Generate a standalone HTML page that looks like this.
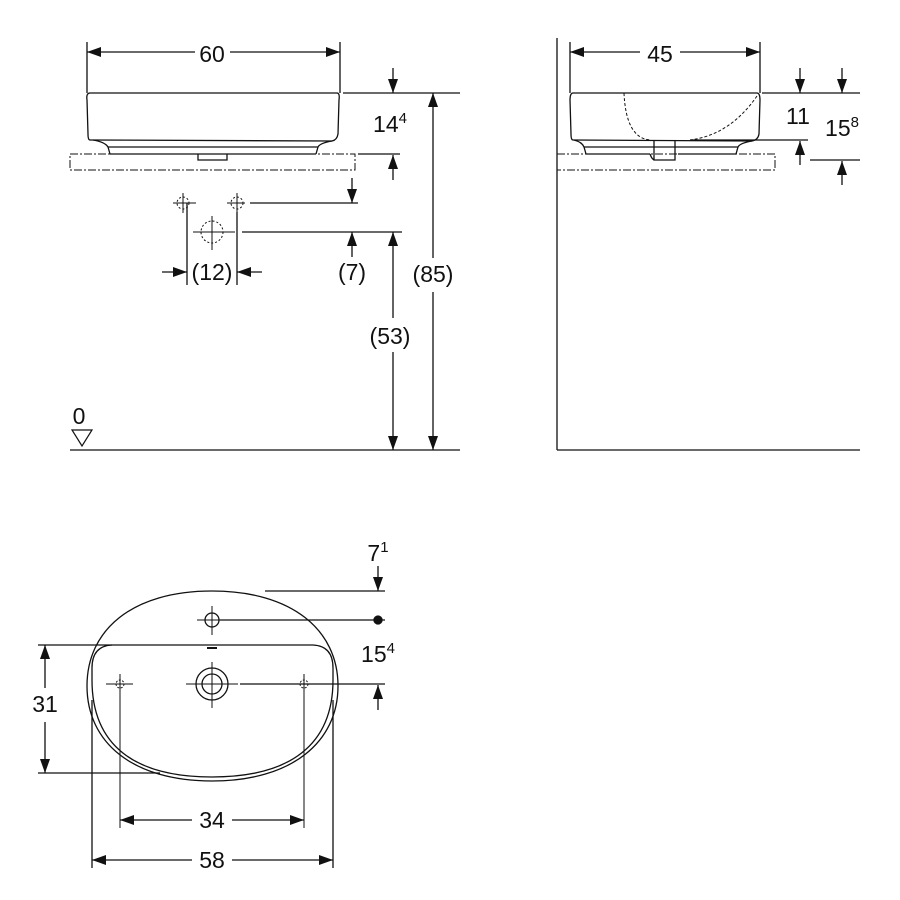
<!DOCTYPE html>
<html><head><meta charset="utf-8"><style>
html,body{margin:0;padding:0;background:#fff}
svg{display:block}
text{font-family:"Liberation Sans",sans-serif;font-size:23px;fill:#111;text-anchor:middle}
</style></head><body>
<svg width="900" height="900" viewBox="0 0 900 900" xmlns="http://www.w3.org/2000/svg">
<defs>
<marker id="a" viewBox="0 0 14 10" refX="14" refY="5" markerWidth="14" markerHeight="10" markerUnits="userSpaceOnUse" orient="auto-start-reverse"><path d="M0,0L14,5L0,10z" fill="#111"/></marker>
</defs>
<g stroke="#111" stroke-width="1.3" fill="none">
<!-- TOP LEFT -->
<line x1="87" y1="42" x2="87" y2="93"/><line x1="340" y1="42" x2="340" y2="93"/>
<line x1="87" y1="52" x2="195" y2="52" marker-start="url(#a)"/><line x1="230" y1="52" x2="340" y2="52" marker-end="url(#a)"/>
<path d="M90,93 H337 Q340,93 339,100 L338,134 Q337,140 332,141 L90,140 Q88,140 88,134 L87,100 Q86,93 90,93Z"/>
<path d="M93,140 Q105,142 108,147 L110,154 M332,141 Q320,143 318,147 L316,154 M108,147 H318 M110,154 H316"/>
<path d="M198,154 V160 H227 V154"/>
<rect x="70" y="154" width="285" height="16" stroke-dasharray="8,2,2,2" stroke-width="1"/>
<line x1="343" y1="93" x2="460" y2="93"/>
<line x1="393" y1="68" x2="393" y2="93" marker-end="url(#a)"/>
<line x1="393" y1="180" x2="393" y2="155" marker-end="url(#a)"/>
<line x1="358" y1="154" x2="400" y2="154"/>
<circle cx="183" cy="203" r="6" stroke-dasharray="2,2" stroke-width="1"/><circle cx="237" cy="203" r="6" stroke-dasharray="2,2" stroke-width="1"/>
<path d="M173,203H196M183,193V213M227,203H245M237,193V213" stroke-width="1"/>
<line x1="250" y1="203" x2="358" y2="203"/>
<line x1="352" y1="178" x2="352" y2="203" marker-end="url(#a)"/>
<circle cx="212" cy="232" r="11" stroke-dasharray="2,2" stroke-width="1"/>
<path d="M193,232H235M212,216V250" stroke-width="1"/>
<line x1="242" y1="232" x2="402" y2="232"/>
<line x1="352" y1="257" x2="352" y2="232" marker-end="url(#a)"/>
<line x1="187" y1="203" x2="187" y2="285"/><line x1="237" y1="212" x2="237" y2="285"/>
<line x1="162" y1="272" x2="187" y2="272" marker-end="url(#a)"/><line x1="262" y1="272" x2="237" y2="272" marker-end="url(#a)"/>
<line x1="393" y1="232" x2="393" y2="318" marker-start="url(#a)"/><line x1="393" y1="352" x2="393" y2="450" marker-end="url(#a)"/>
<line x1="433" y1="93" x2="433" y2="258" marker-start="url(#a)"/><line x1="433" y1="292" x2="433" y2="450" marker-end="url(#a)"/>
<line x1="70" y1="450" x2="460" y2="450"/>
<path d="M72,430H92L82,446Z" stroke-width="1.2"/>
<!-- TOP RIGHT -->
<line x1="557" y1="38" x2="557" y2="450"/><line x1="557" y1="450" x2="860" y2="450"/>
<line x1="570" y1="42" x2="570" y2="93"/><line x1="760" y1="42" x2="760" y2="93"/>
<line x1="570" y1="52" x2="640" y2="52" marker-start="url(#a)"/><line x1="680" y1="52" x2="760" y2="52" marker-end="url(#a)"/>
<path d="M573,93 H757 Q760,93 760,100 L759,134 Q758,140 752,141 L573,140 Q571,140 571,134 L570,100 Q570,93 573,93Z"/>
<path d="M574,140 Q582,142 584,147 L586,154 M752,141 Q740,143 738,147 L736,154 M584,147 H738 M586,154 H650 M678,154 H736"/>
<path d="M654,140 V160 H675 V140 M650,154 Q652,160 655,160"/>
<path d="M624,93 Q626,138 650,140 M757,96 Q730,135 690,140" stroke-dasharray="3,2" stroke-width="1"/>
<rect x="557" y="154" width="218" height="16" stroke-dasharray="8,2,2,2" stroke-width="1"/>
<line x1="762" y1="93" x2="860" y2="93"/>
<line x1="800" y1="68" x2="800" y2="93" marker-end="url(#a)"/><line x1="842" y1="68" x2="842" y2="93" marker-end="url(#a)"/>
<line x1="690" y1="140" x2="808" y2="140"/>
<line x1="800" y1="165" x2="800" y2="141" marker-end="url(#a)"/>
<line x1="810" y1="160" x2="860" y2="160"/>
<line x1="842" y1="185" x2="842" y2="161" marker-end="url(#a)"/>
<!-- BOTTOM -->
<path d="M212,591 C292,591 338,630 338,686 C338,742 292,781 212,781 C132,781 87,742 87,686 C87,630 132,591 212,591Z"/>
<path d="M112,645 H313 Q333,646 333,668 L333,680 C333,745 290,777 212,777 C134,777 92,745 92,680 L92,668 Q92,646 112,645Z"/>
<circle cx="212" cy="620" r="7"/><path d="M197,620H222M212,606V635" stroke-width="1"/>
<line x1="220" y1="620" x2="385" y2="620"/>
<circle cx="378" cy="620" r="4" fill="#111"/>
<path d="M207,648H217" stroke-width="2"/>
<circle cx="212" cy="684" r="16"/><circle cx="212" cy="684" r="10"/>
<path d="M186,684H238M212,662V708" stroke-width="1"/>
<circle cx="120" cy="684" r="4" stroke-dasharray="2,1.5" stroke-width="1"/><circle cx="304" cy="684" r="4" stroke-dasharray="2,1.5" stroke-width="1"/>
<path d="M106,684H133M120,674V828M295,684H310M304,674V828" stroke-width="1"/>
<line x1="240" y1="684" x2="385" y2="684"/>
<line x1="265" y1="591" x2="385" y2="591"/>
<line x1="378" y1="566" x2="378" y2="591" marker-end="url(#a)"/>
<line x1="378" y1="710" x2="378" y2="685" marker-end="url(#a)"/>
<line x1="38" y1="645" x2="112" y2="645"/><line x1="38" y1="773" x2="160" y2="773"/>
<line x1="45" y1="645" x2="45" y2="688" marker-start="url(#a)"/><line x1="45" y1="722" x2="45" y2="773" marker-end="url(#a)"/>
<line x1="120" y1="820" x2="192" y2="820" marker-start="url(#a)"/><line x1="232" y1="820" x2="304" y2="820" marker-end="url(#a)"/>
<line x1="92" y1="700" x2="92" y2="868"/><line x1="333" y1="700" x2="333" y2="868"/>
<line x1="92" y1="860" x2="192" y2="860" marker-start="url(#a)"/><line x1="232" y1="860" x2="333" y2="860" marker-end="url(#a)"/>
</g>
<text x="212" y="62">60</text>
<text x="390" y="132">14<tspan font-size="15" dy="-9">4</tspan></text>
<text x="212" y="280">(12)</text>
<text x="352" y="280">(7)</text>
<text x="433" y="282">(85)</text>
<text x="390" y="344">(53)</text>
<text x="79" y="424">0</text>
<text x="660" y="62">45</text>
<text x="798" y="124">11</text>
<text x="842" y="136">15<tspan font-size="15" dy="-9">8</tspan></text>
<text x="378" y="561">7<tspan font-size="15" dy="-9">1</tspan></text>
<text x="378" y="662">15<tspan font-size="15" dy="-9">4</tspan></text>
<text x="45" y="712">31</text>
<text x="212" y="828">34</text>
<text x="212" y="868">58</text>
</svg>
</body></html>
